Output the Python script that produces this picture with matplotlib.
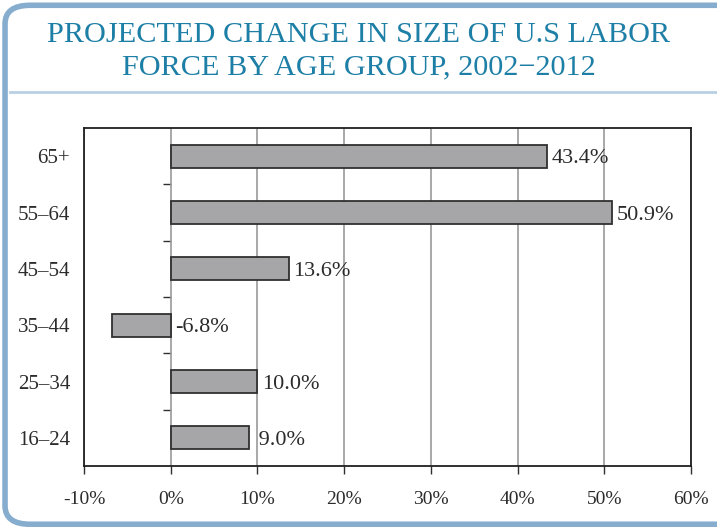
import matplotlib
matplotlib.use("Agg")
import matplotlib.pyplot as plt
from matplotlib.patches import FancyBboxPatch
from matplotlib.lines import Line2D

# ---------------------------------------------------------
# data
# ---------------------------------------------------------
age_groups = ["16\u201324", "25\u201334", "35\u201344", "45\u201354", "55\u201364", "65+"]
change_pct = [9.0, 10.0, -6.8, 13.6, 50.9, 43.4]
x_ticks = [-10, 0, 10, 20, 30, 40, 50, 60]
title = "PROJECTED CHANGE IN SIZE OF U.S LABOR\nFORCE BY AGE GROUP, 2002\u22122012"

TITLE_COLOR = "#1d7ea6"
FRAME_COLOR = "#86acce"
BAR_COLOR = "#a6a6a9"
TEXT_COLOR = "#2b2b2b"

plt.rcParams["font.family"] = ["Liberation Serif", "DejaVu Serif"]

fig = plt.figure(figsize=(7.17, 5.29), dpi=100)

# rounded border box + rule under the title
box = FancyBboxPatch((0.007, 0.009), 1.05, 0.981,
                     boxstyle="round,pad=0,rounding_size=0.035",
                     transform=fig.transFigure, facecolor="none",
                     edgecolor=FRAME_COLOR, linewidth=4, zorder=0)
fig.patches.append(box)
fig.lines.append(Line2D([0.014, 1.0], [0.826, 0.826], transform=fig.transFigure,
                        color="#b9d0e4", linewidth=2))

fig.text(0.5, 0.903, title, ha="center", va="center", fontsize=21.8,
         color=TITLE_COLOR, linespacing=1.3)

# ---------------------------------------------------------
# bar chart
# ---------------------------------------------------------
ax = fig.add_axes([0.1172, 0.119, 0.8466, 0.639])
ypos = list(range(len(age_groups)))
ax.barh(ypos, change_pct, height=0.41, color=BAR_COLOR,
        edgecolor="#303030", linewidth=1.3, zorder=3)

for y, v in zip(ypos, change_pct):
    ax.annotate(f"{v:4.1f}%", xy=(max(v, 0), y), xytext=(3, 0),
                textcoords="offset points", ha="left", va="center_baseline",
                fontsize=16, color=TEXT_COLOR)

ax.set_xlim(x_ticks[0], x_ticks[-1])
ax.set_ylim(-0.5, len(age_groups) - 0.5)
ax.set_xticks(x_ticks)
ax.set_xticklabels([f"{t}%" for t in x_ticks])
ax.set_yticks(ypos)
ax.set_yticklabels(age_groups)
ax.tick_params(axis="y", length=0, pad=10, labelsize=15, labelcolor=TEXT_COLOR)
ax.tick_params(axis="x", direction="out", length=6, width=1, pad=12,
               labelsize=14, labelcolor=TEXT_COLOR, color="#303030")
ax.grid(axis="x", color="#9a9a9a", linewidth=1.2, zorder=1)
ax.set_axisbelow(True)
for s in ax.spines.values():
    s.set_color("#202020")
    s.set_linewidth(1.3)

# category separator ticks on the zero axis
zero_loc = (0 - x_ticks[0]) / (x_ticks[-1] - x_ticks[0])
sec = ax.secondary_yaxis(zero_loc)
sec.set_yticks([p + 0.5 for p in ypos[:-1]])
sec.set_yticklabels([])
sec.tick_params(direction="out", length=6, width=1, color="#303030")
sec.spines["left"].set_visible(False)

fig.savefig("out.png", dpi=100)
